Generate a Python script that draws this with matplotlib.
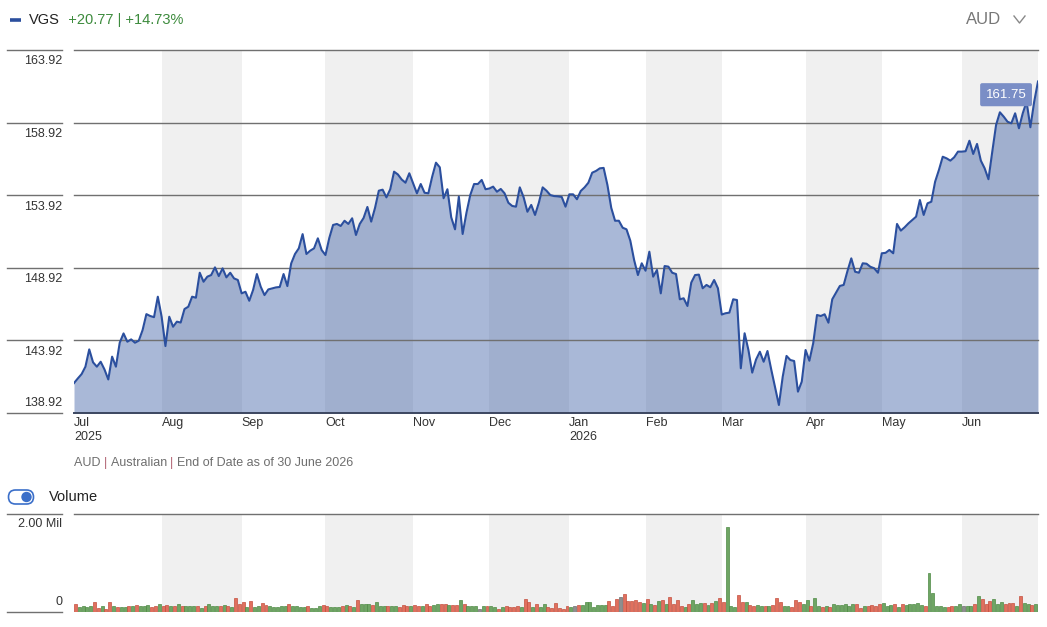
import numpy as np
import matplotlib.pyplot as plt
from matplotlib.patches import FancyBboxPatch, Circle

# fonts: site uses a condensed face, closest installed is Liberation Sans
plt.rcParams['font.family'] = ['Liberation Sans', 'DejaVu Sans']

# ---- data (daily closes, AUD) ----
months = ["Jul", "Aug", "Sep", "Oct", "Nov", "Dec", "Jan", "Feb", "Mar", "Apr", "May", "Jun"]
years = {"Jul": "2025", "Jan": "2026"}

jul = [140.98, 141.30, 141.60, 142.11, 143.30, 142.41, 142.11, 142.45, 141.92, 141.23, 142.80, 142.11,
       143.76, 144.40, 143.83, 143.99, 143.76, 143.90, 144.63, 145.73, 145.60, 145.52, 146.93]
aug = [145.55, 143.53, 145.55, 144.86, 145.21, 145.15, 146.08, 146.24, 146.93, 146.86, 148.58, 147.96,
       148.31, 148.42, 148.95, 148.35, 148.88, 148.26, 148.58, 148.19, 148.08]
sep = [147.16, 147.27, 146.65, 147.39, 148.49, 147.62, 147.04, 147.43, 147.50, 147.57, 147.60, 148.49,
       147.66, 149.22, 149.87, 150.26, 151.24, 149.87, 150.10, 150.26, 150.95, 150.14]
oct_ = [149.80, 150.97, 151.87, 151.94, 151.80, 152.16, 151.94, 152.33, 151.18, 151.94, 152.35, 153.11,
        152.10, 153.04, 154.23, 154.30, 153.77, 154.33, 155.54, 155.35, 155.00, 154.78, 155.43]
nov = [154.74, 154.05, 154.69, 154.09, 154.05, 155.19, 156.16, 155.84, 153.71, 154.33, 152.40, 151.57,
       153.82, 151.25, 152.71, 153.93, 154.69, 154.69, 154.97, 154.33]
dec = [154.38, 154.51, 154.16, 154.35, 154.05, 153.40, 153.18, 153.13, 154.46, 153.78, 152.78, 153.25,
       152.56, 153.40, 154.46, 154.23, 153.93, 153.86, 153.84, 153.80, 153.13]
jan = [153.98, 153.98, 153.64, 154.21, 154.46, 154.78, 155.47, 155.59, 155.77, 155.80, 154.62, 153.05,
       152.16, 152.16, 151.68, 151.57, 150.79, 149.46, 148.42, 149.23]
feb = [148.72, 150.03, 148.31, 148.77, 147.16, 149.04, 149.00, 148.58, 148.49, 146.75, 146.82, 146.29,
       147.90, 148.42, 148.45, 147.51, 147.74, 147.58, 148.08, 147.51]
mar = [145.70, 145.79, 145.83, 146.75, 146.70, 142.00, 144.41, 143.26, 141.70, 142.60, 143.14, 142.45,
       143.19, 141.90, 140.70, 139.47, 141.42, 142.85, 142.57, 142.50, 140.39, 141.08]
apr = [143.26, 142.52, 143.72, 145.67, 145.60, 145.72, 145.14, 146.75, 147.21, 147.67, 147.74, 148.70,
       149.57, 148.65, 148.58, 149.23, 149.20, 148.99, 148.89, 148.58]
may = [149.92, 149.95, 150.15, 149.92, 151.94, 151.48, 151.71, 151.98, 152.21, 152.44, 153.59, 152.56,
       153.36, 153.47, 154.85, 155.66, 156.57, 156.46, 156.30, 156.53, 156.92]
jun = [156.92, 156.95, 157.67, 156.76, 157.45, 156.30, 155.77, 155.02, 156.92, 158.76, 159.63, 159.33,
       158.98, 158.87, 159.56, 158.53, 159.56, 160.36, 158.60, 160.36, 161.75]
prev_close = 141.20

# volume, millions of units
vol_jul_dec = [0.17, 0.10, 0.12, 0.10, 0.12, 0.20, 0.08, 0.13, 0.06, 0.20,
               0.12, 0.10, 0.10, 0.10, 0.13, 0.13, 0.14, 0.13, 0.12, 0.14,
               0.10, 0.12, 0.17, 0.12, 0.14, 0.12, 0.13, 0.16, 0.12, 0.13,
               0.12, 0.12, 0.12, 0.075, 0.13, 0.16, 0.13, 0.12, 0.12, 0.14,
               0.12, 0.10, 0.28, 0.16, 0.20, 0.10, 0.22, 0.10, 0.12, 0.18,
               0.14, 0.13, 0.10, 0.10, 0.12, 0.12, 0.16, 0.12, 0.12, 0.10,
               0.10, 0.13, 0.09, 0.09, 0.13, 0.14, 0.13, 0.10, 0.10, 0.10,
               0.12, 0.14, 0.12, 0.10, 0.25, 0.16, 0.16, 0.16, 0.14, 0.20,
               0.13, 0.12, 0.12, 0.12, 0.12, 0.10, 0.14, 0.12, 0.12, 0.15,
               0.12, 0.12, 0.17, 0.12, 0.14, 0.17, 0.17, 0.17, 0.14, 0.14,
               0.14, 0.24, 0.16, 0.13, 0.13, 0.12, 0.06, 0.12, 0.12, 0.12,
               0.10, 0.06, 0.10, 0.13, 0.10, 0.10, 0.12, 0.10, 0.265, 0.20,
               0.10, 0.16, 0.10, 0.16, 0.10, 0.08, 0.18, 0.08, 0.06, 0.12]
vol_jan_jun = [0.10, 0.13, 0.14, 0.14, 0.20, 0.20, 0.10, 0.14, 0.14, 0.14,
               0.22, 0.12, 0.265, 0.30, 0.36, 0.22, 0.22, 0.24, 0.20, 0.18,
               0.265, 0.17, 0.15, 0.22, 0.24, 0.16, 0.30, 0.16, 0.24, 0.13,
               0.10, 0.16, 0.24, 0.17, 0.18, 0.18, 0.14, 0.18, 0.23, 0.28,
               0.20, 1.73, 0.13, 0.10, 0.34, 0.20, 0.20, 0.15, 0.12, 0.14,
               0.12, 0.12, 0.13, 0.14, 0.28, 0.20, 0.13, 0.12, 0.10, 0.24,
               0.20, 0.16, 0.24, 0.12, 0.28, 0.12, 0.10, 0.12, 0.10, 0.16,
               0.14, 0.14, 0.16, 0.12, 0.17, 0.16, 0.075, 0.12, 0.12, 0.14,
               0.12, 0.16, 0.18, 0.12, 0.14, 0.17, 0.10, 0.16, 0.14, 0.16,
               0.16, 0.18, 0.14, 0.12, 0.80, 0.38, 0.13, 0.13, 0.10, 0.10,
               0.13, 0.12, 0.16, 0.13, 0.13, 0.13, 0.16, 0.32, 0.265, 0.16,
               0.22, 0.265, 0.16, 0.20, 0.16, 0.18, 0.18, 0.12, 0.32, 0.18,
               0.16, 0.14, 0.16, 0.15]

price_ticks = [138.92, 143.92, 148.92, 153.92, 158.92, 163.92]

# ---- derived ----
by_month = [jul, aug, sep, oct_, nov, dec, jan, feb, mar, apr, may, jun]
price = np.array(sum(by_month, []))
volume = np.array(vol_jul_dec + vol_jan_jun)
x = np.arange(len(price))
starts = np.cumsum([0] + [len(m) for m in by_month])  # month boundaries
last = len(price) - 1

chg = np.diff(price, prepend=prev_close)
bar_face = np.where(chg > 0, '#6fa564', np.where(chg < 0, '#e0705e', '#8e8e8e'))
bar_edge = np.where(chg > 0, '#4e8a44', np.where(chg < 0, '#c44f3e', '#6e6e6e'))

W, H = 1047, 627
fig = plt.figure(figsize=(W / 100, H / 100), dpi=100)

# pixel canvas for the loose bits (header, labels, toggle)
ax0 = fig.add_axes([0, 0, 1, 1])
ax0.set_xlim(0, W)
ax0.set_ylim(H, 0)
ax0.axis('off')

L, R = 74, 1038
P_TOP, P_BOT = 50, 413
V_TOP, V_BOT = 514, 612
GRID = '#707070'
TXT = '#333333'
FS = 9

axp = fig.add_axes([L / W, 1 - P_BOT / H, (R - L) / W, (P_BOT - P_TOP) / H])
axv = fig.add_axes([L / W, 1 - V_BOT / H, (R - L) / W, (V_BOT - V_TOP) / H])

for ax in (axp, axv):
    ax.set_xlim(0, last)
    ax.axis('off')
    for k in range(1, len(months), 2):
        ax.axvspan(starts[k], min(starts[k + 1], last), color='#f0f0f0', lw=0, zorder=0)

# price panel
ylo, yhi = price_ticks[0], price_ticks[-1]
axp.set_ylim(ylo, yhi)
axp.fill_between(x, price, ylo, color='#284e9d', alpha=0.4, lw=0, zorder=1)
for v in price_ticks[1:]:
    axp.axhline(v, color=GRID, lw=1, zorder=2, clip_on=False)
axp.axhline(ylo, color='#3c4660', lw=1.4, zorder=4, clip_on=False)
axp.plot(x, price, color='#2b4f9e', lw=1.5, zorder=3)

axp.annotate(f'{price[-1]:.2f}', xy=(last, price[-1]), xytext=(-23, -9.5), textcoords='offset points',
             ha='center', va='center', color='white', fontsize=9.5,
             bbox=dict(boxstyle='round,pad=0.42,rounding_size=0.15', fc='#7a8ec6', ec='none'), zorder=5)

# y labels + short rule segments on the left
for v in price_ticks:
    py = P_BOT - (v - ylo) / (yhi - ylo) * (P_BOT - P_TOP)
    ax0.plot([7, 62], [py, py], color=GRID, lw=1)
    if v == ylo:
        ax0.text(62, py - 4, f'{v:.2f}', ha='right', va='bottom', fontsize=FS, color=TXT)
    else:
        ax0.text(62, py + 5.5, f'{v:.2f}', ha='right', va='top', fontsize=FS, color=TXT)

# month labels
xt = axp.get_xaxis_transform()
for k, m in enumerate(months):
    axp.text(starts[k], -10 / (P_BOT - P_TOP), m, transform=xt, ha='left', va='center',
             fontsize=FS, color=TXT)
    if m in years:
        axp.text(starts[k], -24.5 / (P_BOT - P_TOP), years[m], transform=xt, ha='left', va='center',
                 fontsize=FS, color=TXT)

# volume panel
axv.set_ylim(0, 2.0)
axv.bar(x, volume, width=0.78, align='edge', color=bar_face, edgecolor=bar_edge, lw=0.5, zorder=2)
axv.axhline(2.0, color=GRID, lw=1, clip_on=False)
for py in (V_TOP, V_BOT):
    ax0.plot([7, 62], [py, py], color=GRID, lw=1)
ax0.text(62, V_TOP + 4, '2.00 Mil', ha='right', va='top', fontsize=FS, color=TXT)
ax0.text(62, V_BOT - 4, '0', ha='right', va='bottom', fontsize=FS, color=TXT)

# header
ax0.plot([10, 21], [20, 20], color='#2b4f9e', lw=2.6, solid_capstyle='butt')
t1 = ax0.text(29, 20, 'VGS', ha='left', va='center', fontsize=10.5, color='#222222')
change = price[-1] - price[0]
pct = change / price[0] * 100
ax0.annotate(f'  +{change:.2f} | +{pct:.2f}%', xy=(1, 0.5), xycoords=t1, ha='left', va='center',
             fontsize=10.5, color='#3d8b3d')
ax0.text(1001, 20, 'AUD', ha='right', va='center', fontsize=12, color='#777777')
ax0.plot([1014, 1019.5, 1025], [16, 23, 16], color='#888888', lw=1)

# footer line
parts = [('AUD ', '#6e6e6e'), ('| ', '#b06070'), ('Australian ', '#6e6e6e'), ('| ', '#b06070'),
         ('End of Date as of 30 June 2026', '#6e6e6e')]
prev = ax0.text(L, 463, parts[0][0], ha='left', va='center', fontsize=FS, color=parts[0][1])
for s, c in parts[1:]:
    prev = ax0.annotate(s, xy=(1, 0.5), xycoords=prev, ha='left', va='center', fontsize=FS, color=c)

# volume toggle
ax0.add_patch(FancyBboxPatch((8.5, 490), 25, 14, boxstyle='round,pad=0,rounding_size=7',
                             fc='white', ec='#3b6fc9', lw=1.2))
ax0.add_patch(Circle((26.5, 497), 5.2, fc='#3b6fc9', ec='none'))
ax0.text(49, 497, 'Volume', ha='left', va='center', fontsize=10.5, color='#222222')

fig.savefig('out.png', dpi=100)
